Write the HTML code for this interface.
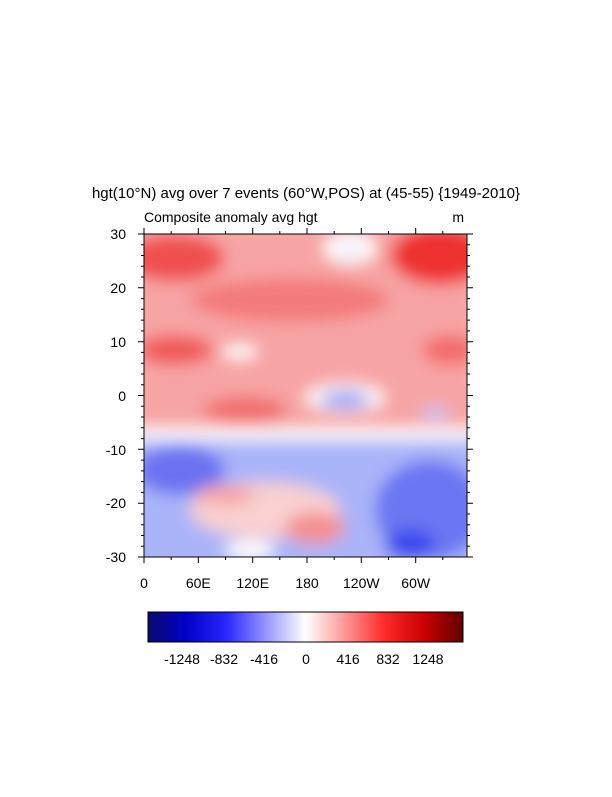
<!DOCTYPE html>
<html><head><style>
body{margin:0;background:#fff;width:612px;height:792px;overflow:hidden;font-family:"Liberation Sans",sans-serif}
</style></head><body>
<svg width="612" height="792" xmlns="http://www.w3.org/2000/svg" font-family="Liberation Sans, sans-serif">
<defs>
<clipPath id="c"><rect x="144" y="234" width="323" height="323"/></clipPath>
<filter id="b" x="-20%" y="-20%" width="140%" height="140%"><feGaussianBlur stdDeviation="8"/></filter>
<linearGradient id="cb" x1="0" x2="1">
<stop offset="0" stop-color="#0a0a6e"/><stop offset="0.12" stop-color="#0000c8"/>
<stop offset="0.25" stop-color="#2828ff"/><stop offset="0.38" stop-color="#9a9aff"/>
<stop offset="0.5" stop-color="#ffffff"/><stop offset="0.62" stop-color="#ff9a9a"/>
<stop offset="0.75" stop-color="#ff2a2a"/><stop offset="0.88" stop-color="#c80000"/>
<stop offset="1" stop-color="#600000"/></linearGradient>
</defs>
<text x="306" y="198" font-size="15" text-anchor="middle">hgt(10°N) avg over 7 events (60°W,POS) at (45-55) {1949-2010}</text>
<text x="144" y="222" font-size="14">Composite anomaly avg hgt</text>
<text x="464" y="222" font-size="14" text-anchor="end">m</text>
<g clip-path="url(#c)">
<rect x="130" y="220" width="350" height="350" fill="#fbc8c8"/>
<g filter="url(#b)">
<rect x="130" y="220" width="350" height="215" fill="#f7a4a4"/>
<ellipse cx="175" cy="258" rx="50" ry="24" fill="#f05050"/>
<ellipse cx="440" cy="255" rx="50" ry="30" fill="#ee3030"/>
<ellipse cx="290" cy="300" rx="100" ry="22" fill="#f37a7a"/>
<ellipse cx="350" cy="248" rx="26" ry="16" fill="#ffffff"/>
<ellipse cx="350" cy="250" rx="10" ry="5" fill="#dde0ff"/>
<ellipse cx="175" cy="350" rx="38" ry="15" fill="#f05858"/>
<ellipse cx="450" cy="350" rx="28" ry="15" fill="#f36a6a"/>
<ellipse cx="240" cy="352" rx="18" ry="7" fill="#ffffff"/>
<ellipse cx="345" cy="398" rx="40" ry="14" fill="#fff"/>
<ellipse cx="345" cy="400" rx="25" ry="9" fill="#9aa2f6"/>
<ellipse cx="435" cy="414" rx="15" ry="6" fill="#c0c6ff"/>
<ellipse cx="245" cy="410" rx="42" ry="14" fill="#f17070"/>
<rect x="130" y="428" width="350" height="12" fill="#ffffff"/>
<rect x="130" y="440" width="350" height="130" fill="#aab4f8"/>
<ellipse cx="180" cy="470" rx="45" ry="25" fill="#6a72f2"/>
<ellipse cx="430" cy="510" rx="55" ry="50" fill="#6a76f2"/>
<ellipse cx="410" cy="545" rx="25" ry="15" fill="#3a46ee"/>
<ellipse cx="265" cy="510" rx="75" ry="28" fill="#fad0d0"/>
<ellipse cx="225" cy="495" rx="30" ry="10" fill="#f6a4a4"/>
<ellipse cx="315" cy="528" rx="30" ry="16" fill="#f49090"/>
<ellipse cx="250" cy="550" rx="25" ry="10" fill="#ffffff"/>
</g>
</g>
<rect x="144" y="234" width="323" height="323" fill="none" stroke="#000" stroke-width="1"/>
<g stroke="#000" stroke-width="1">
<path d="M144 234v-6M198.3 234v-6M252.7 234v-6M307 234v-6M361.3 234v-6M415.7 234v-6M171.2 234v-3M225.5 234v-3M279.8 234v-3M334.2 234v-3M388.5 234v-3M442.8 234v-3"/>
<path d="M144 557v6M198.3 557v6M252.7 557v6M307 557v6M361.3 557v6M415.7 557v6M171.2 557v3M225.5 557v3M279.8 557v3M334.2 557v3M388.5 557v3M442.8 557v3"/>
<path d="M144 234h-6M144 287.8h-6M144 341.7h-6M144 395.5h-6M144 449.3h-6M144 503.2h-6M144 557h-6"/>
<path d="M467 234h6M467 287.8h6M467 341.7h6M467 395.5h6M467 449.3h6M467 503.2h6M467 557h6"/>
<path d="M144 244.8h-3M144 255.5h-3M144 266.3h-3M144 277h-3M144 298.6h-3M144 309.3h-3M144 320.1h-3M144 330.9h-3M144 352.4h-3M144 363.2h-3M144 374h-3M144 384.7h-3M144 406.3h-3M144 417h-3M144 427.8h-3M144 438.6h-3M144 460.1h-3M144 470.9h-3M144 481.6h-3M144 492.4h-3M144 514h-3M144 524.7h-3M144 535.5h-3M144 546.2h-3"/>
<path d="M467 244.8h3M467 255.5h3M467 266.3h3M467 277h3M467 298.6h3M467 309.3h3M467 320.1h3M467 330.9h3M467 352.4h3M467 363.2h3M467 374h3M467 384.7h3M467 406.3h3M467 417h3M467 427.8h3M467 438.6h3M467 460.1h3M467 470.9h3M467 481.6h3M467 492.4h3M467 514h3M467 524.7h3M467 535.5h3M467 546.2h3"/>
</g>
<g font-size="14" text-anchor="end">
<text x="126" y="239">30</text><text x="126" y="293">20</text><text x="126" y="347">10</text>
<text x="126" y="401">0</text><text x="126" y="455">-10</text><text x="126" y="508">-20</text><text x="126" y="562">-30</text>
</g>
<g font-size="14" text-anchor="middle">
<text x="144" y="588">0</text><text x="198.3" y="588">60E</text><text x="252.7" y="588">120E</text>
<text x="307" y="588">180</text><text x="361.3" y="588">120W</text><text x="415.7" y="588">60W</text>
</g>
<rect x="148" y="612" width="315" height="30" fill="url(#cb)" stroke="#000" stroke-width="1"/>
<g font-size="14" text-anchor="middle">
<text x="182" y="664">-1248</text><text x="224" y="664">-832</text><text x="264" y="664">-416</text>
<text x="306" y="664">0</text><text x="348" y="664">416</text><text x="388" y="664">832</text><text x="428" y="664">1248</text>
</g>
</svg>
</body></html>
